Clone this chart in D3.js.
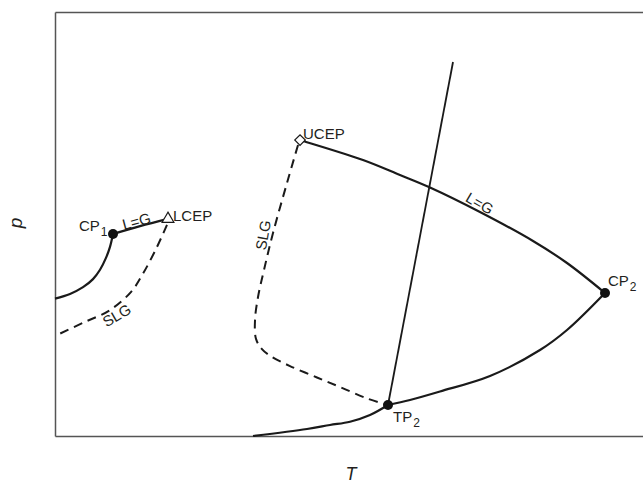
<!DOCTYPE html>
<html><head><meta charset="utf-8">
<script src="https://cdn.jsdelivr.net/npm/d3@7"></script>
<style>
body{margin:0;background:#fff;}
svg{display:block;}
text{font-family:"Liberation Sans",Arial,sans-serif;fill:#231f20;}
</style></head><body>
<svg id="chart" width="643" height="485"></svg>
<script>
// Phase diagram (schematic) — T and p in arbitrary units
const vaporPressure1 = [[0,32.4],[2.54,33.5],[4.75,35.1],[6.44,37.0],[7.63,39.2],[8.64,42.0],[9.32,44.6],[9.83,47.64]];
const criticalLine1 = [[9.83,47.64],[14.41,49.5],[19.15,51.2]];
const slg1 = [[18.98,49.8],[17.29,44.6],[14.92,38.3],[12.9,34.0],[9.32,29.7],[4.75,26.7],[0,23.6]];
const criticalLine2 = [[41.53,69.8],[42.03,69.58],[52.20,65.09],[58.47,61.56],[63.56,58.61],[72.03,52.83],[81.02,45.99],[86.78,40.80],[93.22,33.73]];
const slg2 = [[41.19,68.63],[39.32,59.67],[36.95,47.88],[35.42,39.15],[34.41,32.78],[33.90,27.36],[34.07,22.9],[35.08,20.5],[36.7,18.7],[39.83,16.5],[44.4,13.8],[48.31,11.56],[52.8,8.9],[56.44,7.31]];
const melting2 = [[67.46,88.2],[56.44,7.31]];
const sublimation2 = [[33.56,0],[42.71,1.65],[46.61,2.59],[50.0,3.37],[53.39,4.95],[56.44,7.31]];
const vaporPressure2 = [[56.44,7.31],[60.17,8.5],[65.25,10.5],[73.73,14.15],[82.20,20.28],[86.78,25.0],[93.22,33.73]];
const dots = [{name:"CP",sub:"1",T:9.83,p:47.64},{name:"TP",sub:"2",T:56.44,p:7.31},{name:"CP",sub:"2",T:93.22,p:33.73}];
const triangles = [{name:"LCEP",T:19.15,p:51.2}];
const diamonds = [{name:"UCEP",T:41.53,p:69.8}];
const curveLabels = [
  {text:"L=G",T:13.8,p:50.7,angle:-15},
  {text:"SLG",T:10.45,p:28.5,angle:-30},
  {text:"SLG",T:35.25,p:47.4,angle:-80},
  {text:"L=G",T:72.0,p:54.9,angle:30}
];
const xTitle = "T", yTitle = "p";

const svg = d3.select("#chart");
const x = d3.scaleLinear().domain([0,100]).range([55,645]);
const y = d3.scaleLinear().domain([0,100]).range([436,12]);

// frame via axes without ticks
const frameStyle = g => { g.select(".domain").attr("stroke","#555").attr("stroke-width",1.5); g.selectAll(".tick").remove(); };
svg.append("g").attr("transform","translate(0,436)").call(d3.axisBottom(x).tickValues([]).tickSizeOuter(0)).call(frameStyle);
svg.append("g").attr("transform","translate(0,12)").call(d3.axisTop(x).tickValues([]).tickSizeOuter(0)).call(frameStyle);
svg.append("g").attr("transform","translate(55,0)").call(d3.axisLeft(y).tickValues([]).tickSizeOuter(0)).call(frameStyle);

const line = d3.line().x(d=>x(d[0])).y(d=>y(d[1])).curve(d3.curveCatmullRom.alpha(0.5));
const straight = d3.line().x(d=>x(d[0])).y(d=>y(d[1]));

const solid = (data, gen, w) => svg.append("path").attr("d",gen(data)).attr("fill","none").attr("stroke","#1a1a1a").attr("stroke-width",w).attr("stroke-linejoin","round");
const dashed = (data) => svg.append("path").attr("d",line(data)).attr("fill","none").attr("stroke","#1a1a1a").attr("stroke-width",2).attr("stroke-dasharray","9,6");

solid(vaporPressure1, line, 2.2);
solid(criticalLine1, line, 2.4);
dashed(slg1);
solid(criticalLine2, line, 2.2);
dashed(slg2);
solid(melting2, straight, 1.8);
solid(sublimation2, line, 2.2);
solid(vaporPressure2, line, 2.2);

// markers
svg.selectAll(".dot").data(dots).join("circle").attr("cx",d=>x(d.T)).attr("cy",d=>y(d.p)).attr("r",5).attr("fill","#111");
svg.selectAll(".tri").data(triangles).join("path")
  .attr("transform",d=>`translate(${x(d.T)},${y(d.p)})`)
  .attr("d",d3.symbol(d3.symbolTriangle,60)()).attr("fill","#fff").attr("stroke","#1a1a1a").attr("stroke-width",1.2);
svg.selectAll(".dia").data(diamonds).join("path")
  .attr("transform",d=>`translate(${x(d.T)},${y(d.p)}) rotate(45)`)
  .attr("d",d3.symbol(d3.symbolSquare,55)()).attr("fill","#fff").attr("stroke","#1a1a1a").attr("stroke-width",1.2);

// point labels
const fs = 15;
const dotOffsets = [[-34,-3],[5,17],[3,-7]];
dots.forEach((d,i)=>{
  const t = svg.append("text").attr("x",x(d.T)+dotOffsets[i][0]).attr("y",y(d.p)+dotOffsets[i][1]).attr("font-size",fs);
  t.append("tspan").text(d.name);
  t.append("tspan").attr("dy",5).attr("dx",1).attr("font-size",12).text(d.sub);
});
triangles.forEach(d=> svg.append("text").attr("x",x(d.T)+5).attr("y",y(d.p)+2).attr("font-size",fs).text(d.name));
diamonds.forEach(d=> svg.append("text").attr("x",x(d.T)+3).attr("y",y(d.p)-1).attr("font-size",fs).text(d.name));

curveLabels.forEach(d=> svg.append("text")
  .attr("transform",`translate(${x(d.T)},${y(d.p)}) rotate(${d.angle})`)
  .attr("text-anchor","middle").attr("dominant-baseline","central").attr("font-size",fs).text(d.text));

// axis titles
svg.append("text").attr("x",351).attr("y",480).attr("text-anchor","middle").attr("font-size",18).attr("font-style","italic").text(xTitle);
svg.append("text").attr("transform","translate(22,223) rotate(-90)").attr("text-anchor","middle").attr("font-size",19).attr("font-style","italic").text(yTitle);
</script>
</body></html>
